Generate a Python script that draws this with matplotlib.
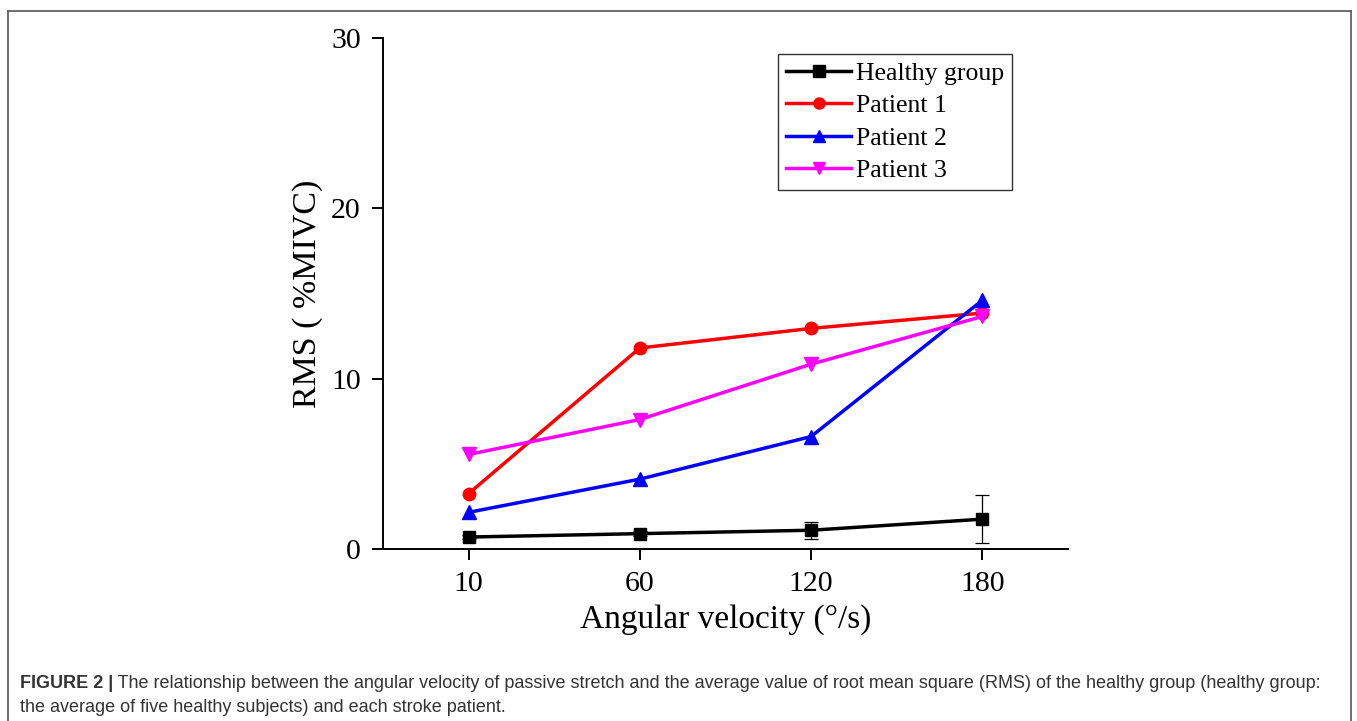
import matplotlib
matplotlib.use("Agg")
import matplotlib.pyplot as plt
from matplotlib.lines import Line2D

# Data
velocities = ["10", "60", "120", "180"]
healthy = [0.7, 0.9, 1.1, 1.75]
healthy_err = [0.1, 0.15, 0.5, 1.4]
patient1 = [3.25, 11.8, 12.95, 13.85]
patient2 = [2.15, 4.1, 6.6, 14.6]
patient3 = [5.55, 7.6, 10.85, 13.65]

series = [
    ("Healthy group", healthy, "black", "s", 9),
    ("Patient 1", patient1, "red", "o", 9),
    ("Patient 2", patient2, "blue", "^", 10),
    ("Patient 3", patient3, "magenta", "v", 10),
]

serif = ["Liberation Serif", "DejaVu Serif"]

fig = plt.figure(figsize=(13.57, 7.21), dpi=100)
ax = fig.add_axes([0.2822, 0.2386, 0.787 - 0.2822, 0.9473 - 0.2386])

x = list(range(len(velocities)))

# error bars of the healthy group
ax.errorbar(x, healthy, yerr=healthy_err, fmt="none", ecolor="black",
            elinewidth=0.9, capsize=5, capthick=0.9, zorder=2)

handles = []
for name, vals, color, marker, ms in series:
    ax.plot(x, vals, color=color, lw=2.5, marker=marker, markersize=ms,
            zorder=3)
    handles.append(Line2D([0], [0], color=color, lw=2.5, marker=marker,
                          markersize=ms - 1, label=name))

ax.set_xlim(-0.5, 3.5)
ax.set_ylim(0, 30)
ax.set_xticks(x)
ax.set_xticklabels(velocities)
ax.set_yticks([0, 10, 20, 30])

for side in ["top", "right"]:
    ax.spines[side].set_visible(False)
for side in ["left", "bottom"]:
    ax.spines[side].set_linewidth(1.4)

ax.tick_params(axis="both", direction="out", length=8, width=1.4,
               labelsize=21.5, pad=8)
for lab in ax.get_xticklabels() + ax.get_yticklabels():
    lab.set_family(serif)

ax.set_xlabel("Angular velocity (°/s)", fontsize=24, family=serif, labelpad=5)
ax.set_ylabel("RMS ( %MIVC)", fontsize=24.5, family=serif, labelpad=6)

leg = ax.legend(handles=handles, loc="upper left",
                bbox_to_anchor=(0.577, 0.969), frameon=True, fancybox=False,
                edgecolor="black", prop={"family": serif, "size": 18.5},
                handlelength=2.5, handletextpad=0.2, labelspacing=0.36,
                borderpad=0.32, borderaxespad=0, numpoints=1)
leg.get_frame().set_linewidth(1.0)

# outer frame of the figure panel (open at the bottom)
frame_kw = dict(color="#555555", lw=1.2, transform=fig.transFigure)
fig.add_artist(Line2D([8 / 1357, 8 / 1357], [0, 1 - 11 / 721], **frame_kw))
fig.add_artist(Line2D([1351 / 1357, 1351 / 1357], [0, 1 - 11 / 721], **frame_kw))
fig.add_artist(Line2D([8 / 1357, 1351 / 1357], [1 - 11 / 721, 1 - 11 / 721], **frame_kw))

# caption
sans = ["Liberation Sans", "DejaVu Sans"]
head = fig.text(20 / 1357, 1 - 688 / 721, "FIGURE 2 |", fontsize=13,
                fontweight="bold", family=sans, color="#333333")
ax.annotate(" The relationship between the angular velocity of passive stretch "
            "and the average value of root mean square (RMS) of the healthy "
            "group (healthy group:",
            xy=(1, 0), xycoords=head, va="bottom", ha="left", fontsize=13,
            family=sans, color="#333333", annotation_clip=False)
fig.text(20 / 1357, 1 - 712 / 721,
         "the average of five healthy subjects) and each stroke patient.",
         fontsize=13, family=sans, color="#333333")

fig.savefig("out.png", dpi=100)
